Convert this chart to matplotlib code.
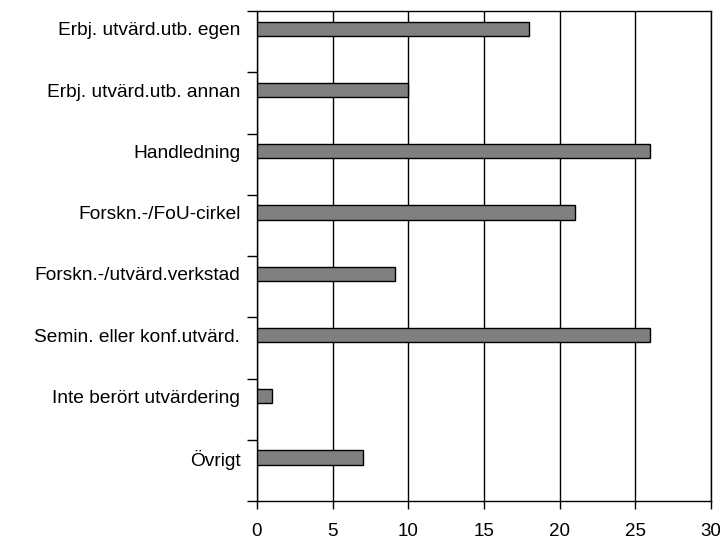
import numpy as np
import matplotlib.pyplot as plt

categories = [
    "Erbj. utvärd.utb. egen",
    "Erbj. utvärd.utb. annan",
    "Handledning",
    "Forskn.-/FoU-cirkel",
    "Forskn.-/utvärd.verkstad",
    "Semin. eller konf.utvärd.",
    "Inte berört utvärdering",
    "Övrigt",
]
values = [18, 10, 26, 21, 9.1, 26, 1, 7]
xticks = [0, 5, 10, 15, 20, 25, 30]

plt.rcParams['font.family'] = ['Liberation Sans', 'DejaVu Sans']

fig = plt.figure(figsize=(7.2, 5.48), dpi=100)
ax = fig.add_axes([257 / 720, 1 - 501 / 548, 454 / 720, 490 / 548])

pos = np.arange(len(categories)) - 0.21
ax.barh(pos, values, height=0.23, color="#808080", edgecolor="black", linewidth=1, zorder=3)

ax.set_xlim(0, 30)
ax.set_ylim(len(categories) - 0.5, -0.5)
ax.set_xticks(xticks)
ax.set_xticklabels([str(t) for t in xticks], fontsize=13.5)
ax.grid(axis="x", color="black", linewidth=1, zorder=1)

ax.set_yticks(pos)
ax.set_yticklabels(categories, fontsize=13.8)
ax.set_yticks(np.arange(len(categories) + 1) - 0.5, minor=True)
ax.tick_params(axis="y", which="major", length=0, pad=12)
ax.tick_params(axis="y", which="minor", length=7, width=1, color="black")
ax.tick_params(axis="x", length=6, width=1, pad=9.5)

for s in ax.spines.values():
    s.set_color("black")
    s.set_linewidth(1)

fig.savefig("out.png", dpi=100)
